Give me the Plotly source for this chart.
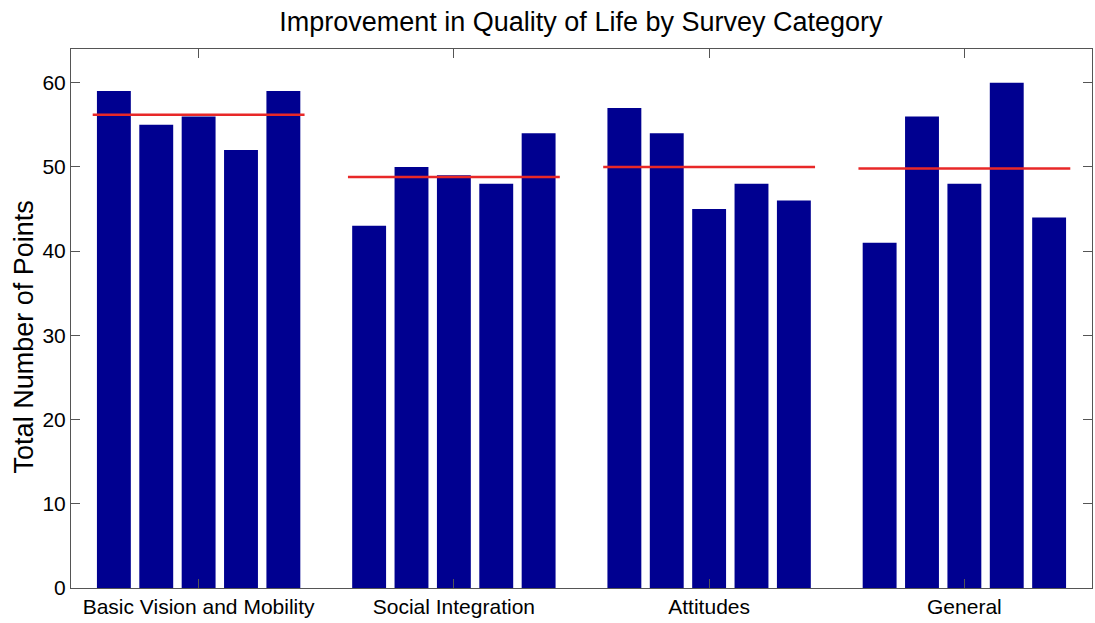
import numpy as np
import plotly.graph_objects as go

categories = ["Basic Vision and Mobility", "Social Integration", "Attitudes", "General"]
bar1 = [59, 43, 57, 41]
bar2 = [55, 50, 54, 56]
bar3 = [56, 49, 45, 48]
bar4 = [52, 48, 48, 60]
bar5 = [59, 54, 46, 44]
y_ticks = [0, 10, 20, 30, 40, 50, 60]

series = [bar1, bar2, bar3, bar4, bar5]
xpos = np.arange(len(categories))
means = np.mean(np.array(series), axis=0)

BAR_COLOR = "#000090"
LINE_COLOR = "#e82828"
AXIS_COLOR = "#555555"
FONT = "Liberation Sans, Arial, sans-serif"

fig = go.Figure()
for vals in series:
    fig.add_trace(go.Bar(x=xpos, y=vals, marker=dict(color=BAR_COLOR, line=dict(width=0)),
                         showlegend=False, hoverinfo="y"))

half = 0.415
for i, m in zip(xpos, means):
    fig.add_trace(go.Scatter(x=[i - half, i + half], y=[m, m], mode="lines",
                             line=dict(color=LINE_COLOR, width=2.5),
                             showlegend=False, hoverinfo="y"))

fig.update_layout(
    width=1095, height=623,
    margin=dict(l=71, r=3, t=49, b=35),
    paper_bgcolor="white", plot_bgcolor="white",
    barmode="group", bargap=0.17, bargroupgap=0.2,
    font=dict(family=FONT, color="black", size=21),
    title=dict(text="Improvement in Quality of Life by Survey Category",
               x=0.5305, xanchor="center", y=0.965, yanchor="middle",
               font=dict(size=27, family=FONT, color="black")),
    annotations=[dict(text="Total Number of Points", textangle=-90,
                      xref="paper", yref="paper", x=-0.046, y=0.465,
                      xanchor="center", yanchor="middle", showarrow=False,
                      font=dict(size=27, family=FONT, color="black"))],
)
fig.update_xaxes(range=[-0.5, 3.5], tickvals=xpos, ticktext=categories,
                 ticks="inside", ticklen=9, tickcolor=AXIS_COLOR,
                 showline=True, linecolor=AXIS_COLOR, linewidth=1, mirror="ticks",
                 showgrid=False, zeroline=False, tickfont=dict(size=21))
fig.update_yaxes(range=[0, 64], tickvals=y_ticks,
                 ticks="inside", ticklen=9, tickcolor=AXIS_COLOR,
                 showline=True, linecolor=AXIS_COLOR, linewidth=1, mirror="ticks",
                 showgrid=False, zeroline=False, tickfont=dict(size=21))

fig.write_html("out.html", config={"displayModeBar": False},
               post_script="document.body.style.margin='0';document.body.style.padding='0';document.body.style.overflow='hidden';")
